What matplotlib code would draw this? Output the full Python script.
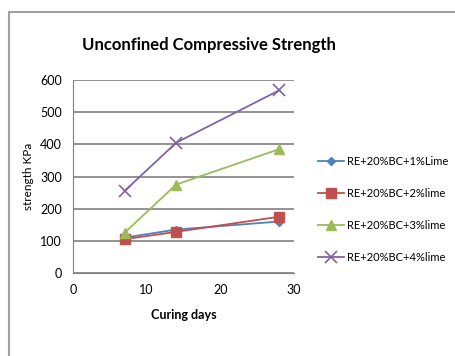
import matplotlib
matplotlib.use('Agg')
import matplotlib.pyplot as plt
from matplotlib.patches import Rectangle

# curing days and strength (kPa)
days = [7, 14, 28]
lime_1 = [110, 135, 160]
lime_2 = [105, 128, 175]
lime_3 = [125, 275, 385]
lime_4 = [255, 405, 568]

labels = ['RE+20%BC+1%Lime', 'RE+20%BC+2%lime', 'RE+20%BC+3%lime', 'RE+20%BC+4%lime']
x_ticks = [0, 10, 20, 30]
y_ticks = [0, 100, 200, 300, 400, 500, 600]

plt.rcParams['font.family'] = ['Lato', 'DejaVu Sans']

fig = plt.figure(figsize=(4.55, 3.56), dpi=100)
ax = fig.add_axes([73 / 455, 1 - 273 / 356, (294 - 73) / 455, (273 - 80) / 356])

# chart frame
fig.patches.append(Rectangle((9 / 455, -0.1), 1.2, 1 - 12 / 356 + 0.1, transform=fig.transFigure,
                             fill=False, edgecolor='#a0a0a0', linewidth=1.5))

ax.plot(days, lime_1, color='#4F81BD', marker='D', markersize=4, linewidth=1.3, label=labels[0])
ax.plot(days, lime_2, color='#C0504D', marker='s', markersize=7, linewidth=1.3, label=labels[1])
ax.plot(days, lime_3, color='#9BBB59', marker='^', markersize=7, linewidth=1.3, label=labels[2])
ax.plot(days, lime_4, color='#8064A2', marker='x', markersize=8, markeredgewidth=1.2, linewidth=1.3, label=labels[3])

ax.set_xlim(0, 30)
ax.set_ylim(0, 600)
ax.set_xticks(x_ticks)
ax.set_yticks(y_ticks)
ax.tick_params(length=0, labelsize=9, pad=8)
ax.grid(axis='y', color='#808080', linewidth=1.2)
ax.set_axisbelow(True)
for side in ['top', 'right']:
    ax.spines[side].set_visible(False)
for side in ['left', 'bottom']:
    ax.spines[side].set_color('#808080')

ax.set_xlabel('Curing days', fontsize=9, fontweight='bold', labelpad=9)
ax.set_ylabel('strength KPa', fontsize=8.5, labelpad=4)
fig.text(209 / 455, 1 - 45 / 356, 'Unconfined Compressive Strength', fontsize=12, fontweight='bold',
         ha='center', va='center')

ax.legend(loc='center left', bbox_to_anchor=(1.09, 0.33), frameon=False, fontsize=8,
          labelspacing=1.9, handlelength=2.3, handletextpad=0.3, borderaxespad=0)

fig.savefig('out.png', dpi=100)
